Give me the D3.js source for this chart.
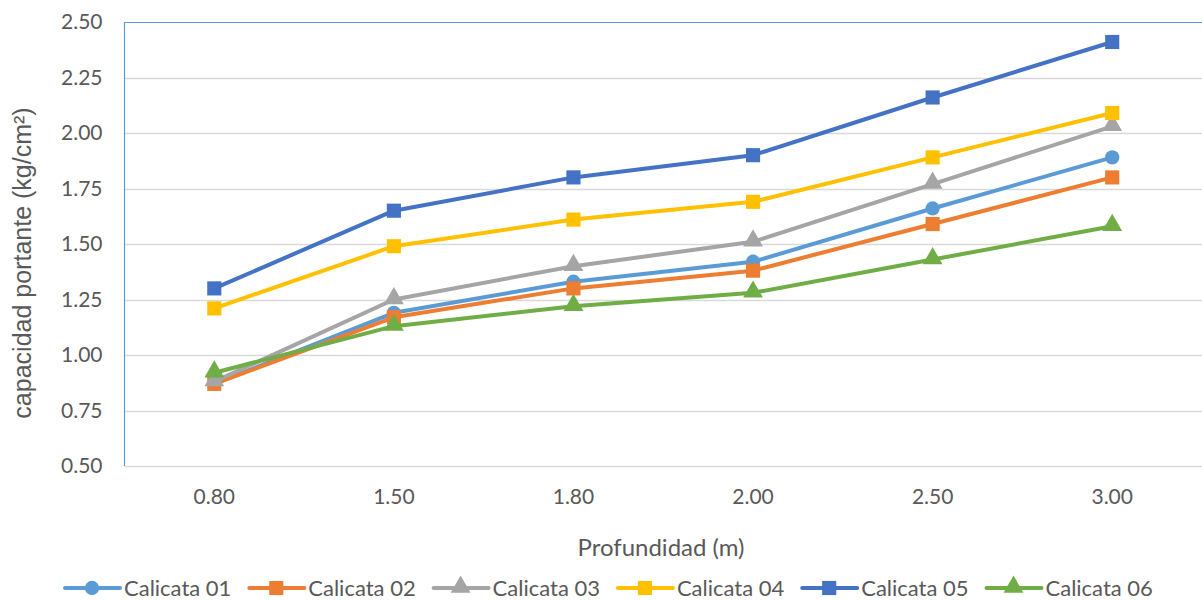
<!DOCTYPE html>
<html>
<head>
<meta charset="utf-8">
<script src="https://cdn.jsdelivr.net/npm/d3@7"></script>
<style>
  html, body { margin: 0; padding: 0; background: #fff; }
  svg { display: block; }
</style>
</head>
<body>
<svg id="chart" width="1202" height="600"></svg>
<script>
// Profundidad de cimentación (m)
const depths = ["0.80", "1.50", "1.80", "2.00", "2.50", "3.00"];
const yTicks = [0.50, 0.75, 1.00, 1.25, 1.50, 1.75, 2.00, 2.25, 2.50];

// Capacidad portante por calicata (kg/cm²)
const calicata01 = [0.87, 1.19, 1.33, 1.42, 1.66, 1.89];
const calicata02 = [0.87, 1.17, 1.30, 1.38, 1.59, 1.80];
const calicata03 = [0.88, 1.25, 1.40, 1.51, 1.77, 2.03];
const calicata04 = [1.21, 1.49, 1.61, 1.69, 1.89, 2.09];
const calicata05 = [1.30, 1.65, 1.80, 1.90, 2.16, 2.41];
const calicata06 = [0.92, 1.13, 1.22, 1.28, 1.43, 1.58];

const seriesNames = ["Calicata 01", "Calicata 02", "Calicata 03", "Calicata 04", "Calicata 05", "Calicata 06"];

const series = [
  { name: seriesNames[0], values: calicata01, color: "#5B9BD5", marker: "circle" },
  { name: seriesNames[1], values: calicata02, color: "#ED7D31", marker: "square" },
  { name: seriesNames[2], values: calicata03, color: "#A5A5A5", marker: "triangle" },
  { name: seriesNames[3], values: calicata04, color: "#FFC000", marker: "square" },
  { name: seriesNames[4], values: calicata05, color: "#4472C4", marker: "square" },
  { name: seriesNames[5], values: calicata06, color: "#70AD47", marker: "triangle" }
];

const svg = d3.select("#chart");
const plot = { left: 124.5, right: 1202, top: 22, bottom: 466 };
const tickFont = "Lato, 'Open Sans', sans-serif";
const textColor = "#595959";

const x = d3.scaleBand().domain(depths).range([plot.left, plot.right]);
const y = d3.scaleLinear().domain([0.5, 2.5]).range([plot.bottom, plot.top]);

// horizontal gridlines
svg.append("g")
  .selectAll("line")
  .data(yTicks.slice(0, -1))
  .join("line")
  .attr("x1", plot.left).attr("x2", plot.right)
  .attr("y1", d => Math.round(y(d)) + 0.5).attr("y2", d => Math.round(y(d)) + 0.5)
  .attr("stroke", "#D9D9D9").attr("stroke-width", 1.5);

// top axis line and left axis line
svg.append("line")
  .attr("x1", plot.left).attr("x2", plot.right)
  .attr("y1", y(2.5) + 0.5).attr("y2", y(2.5) + 0.5)
  .attr("stroke", "#5B9BD5").attr("stroke-width", 1.2);
svg.append("line")
  .attr("x1", plot.left).attr("x2", plot.left)
  .attr("y1", plot.top).attr("y2", plot.bottom)
  .attr("stroke", "#5B9BD5").attr("stroke-width", 1.2);

// y axis tick labels
const yAxis = d3.axisLeft(y).tickValues(yTicks).tickFormat(d3.format(".2f")).tickSize(0).tickPadding(22);
const gy = svg.append("g").attr("transform", `translate(${plot.left},0)`).call(yAxis);
gy.select(".domain").remove();
gy.selectAll("text")
  .attr("font-family", tickFont).attr("font-size", 21).attr("fill", textColor);

// x axis tick labels
const xAxis = d3.axisBottom(x).tickSize(0).tickPadding(23);
const gx = svg.append("g").attr("transform", `translate(0,${plot.bottom})`).call(xAxis);
gx.select(".domain").remove();
gx.selectAll("text")
  .attr("font-family", tickFont).attr("font-size", 21).attr("fill", textColor);

// axis titles
svg.append("text")
  .attr("transform", `translate(31,263) rotate(-90)`)
  .attr("text-anchor", "middle")
  .attr("font-family", "'Liberation Sans', Arial, sans-serif")
  .attr("font-size", 25)
  .attr("fill", textColor)
  .text("capacidad portante (kg/cm²)");

svg.append("text")
  .attr("x", 661).attr("y", 556)
  .attr("text-anchor", "middle")
  .attr("font-family", tickFont).attr("font-size", 24)
  .attr("fill", textColor)
  .text("Profundidad (m)");

// marker shapes
const symbolFor = m => m === "circle" ? d3.symbolCircle : m === "square" ? d3.symbolSquare : d3.symbolTriangle;
const sizeFor = m => m === "circle" ? 160 : m === "square" ? 200 : 170;

const line = d3.line()
  .x((d, i) => x(depths[i]) + x.bandwidth() / 2)
  .y(d => y(d));

series.forEach(s => {
  const g = svg.append("g");
  g.append("path")
    .attr("d", line(s.values))
    .attr("fill", "none")
    .attr("stroke", s.color)
    .attr("stroke-width", 4)
    .attr("stroke-linejoin", "round")
    .attr("stroke-linecap", "round");
  g.selectAll("path.mk")
    .data(s.values)
    .join("path")
    .attr("class", "mk")
    .attr("d", d3.symbol().type(symbolFor(s.marker)).size(sizeFor(s.marker)))
    .attr("transform", (d, i) => `translate(${x(depths[i]) + x.bandwidth() / 2},${y(d) + (s.marker === "triangle" ? -1 : 0)})`)
    .attr("fill", s.color);
});

// legend
const legendY = 588;
const legend = svg.append("g");
series.forEach((s, i) => {
  const x0 = 65 + i * 184.3;
  const item = legend.append("g").attr("transform", `translate(${x0},${legendY})`);
  item.append("line")
    .attr("x1", 0).attr("x2", 55).attr("y1", 0).attr("y2", 0)
    .attr("stroke", s.color).attr("stroke-width", 4).attr("stroke-linecap", "round");
  item.append("path")
    .attr("d", d3.symbol().type(symbolFor(s.marker)).size(sizeFor(s.marker)))
    .attr("transform", `translate(27,${s.marker === "triangle" ? -1 : 0})`)
    .attr("fill", s.color);
  item.append("text")
    .attr("x", 59).attr("y", 8)
    .attr("font-family", tickFont).attr("font-size", 22)
    .attr("fill", textColor)
    .text(s.name);
});
</script>
</body>
</html>
